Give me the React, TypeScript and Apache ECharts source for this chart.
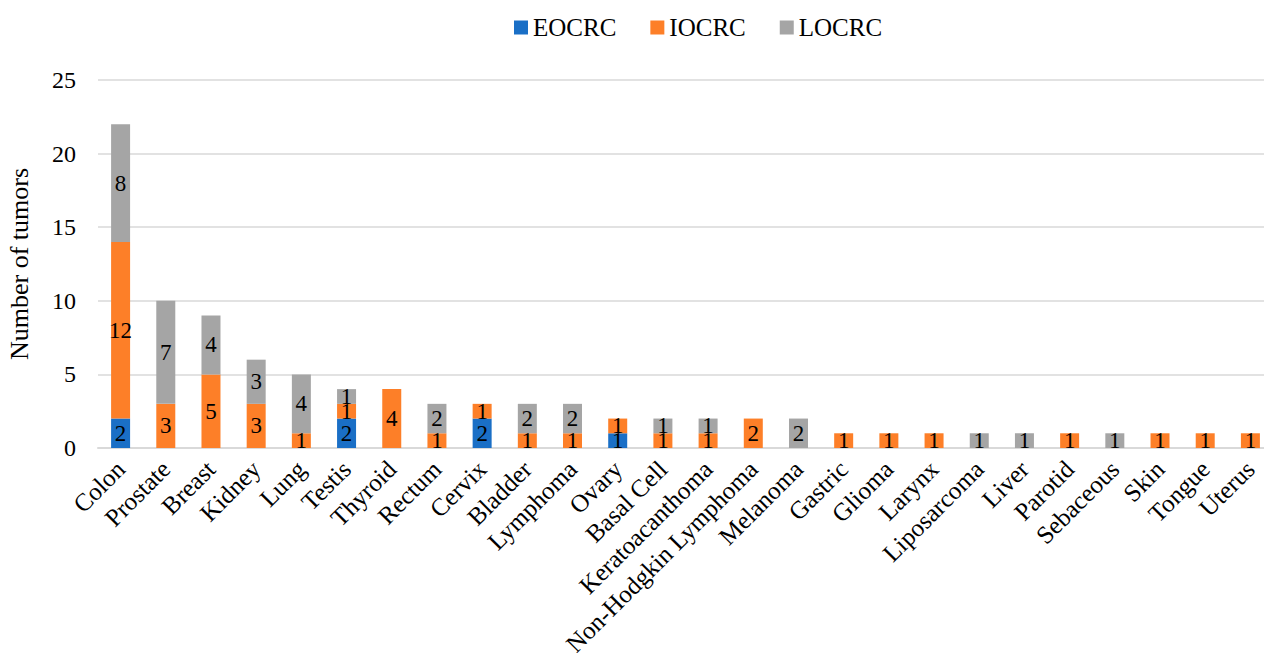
import React, { useEffect, useRef } from "react";
import * as echarts from "echarts";

const categories = [
  "Colon", "Prostate", "Breast", "Kidney", "Lung", "Testis", "Thyroid", "Rectum",
  "Cervix", "Bladder", "Lymphoma", "Ovary", "Basal Cell", "Keratoacanthoma",
  "Non-Hodgkin Lymphoma", "Melanoma", "Gastric", "Glioma", "Larynx", "Liposarcoma",
  "Liver", "Parotid", "Sebaceous", "Skin", "Tongue", "Uterus",
];
const eocrc = [2, 0, 0, 0, 0, 2, 0, 0, 2, 0, 0, 1, 0, 0, 0, 0, 0, 0, 0, 0, 0, 0, 0, 0, 0, 0];
const iocrc = [12, 3, 5, 3, 1, 1, 4, 1, 1, 1, 1, 1, 1, 1, 2, 0, 1, 1, 1, 0, 0, 1, 0, 1, 1, 1];
const locrc = [8, 7, 4, 3, 4, 1, 0, 2, 0, 2, 2, 0, 1, 1, 0, 2, 0, 0, 0, 1, 1, 0, 1, 0, 0, 0];
const yTicks = { min: 0, max: 25, interval: 5 };

const FONT = "'Liberation Serif', serif";

export default function App() {
  const ref = useRef<HTMLDivElement>(null);
  useEffect(() => {
    const chart = echarts.init(ref.current!, undefined, { renderer: "svg" });
    const mk = (name: string, data: number[], color: string) => ({
      name,
      type: "bar",
      stack: "total",
      data,
      barWidth: 19,
      itemStyle: { color },
      label: {
        show: true,
        position: "inside",
        color: "#000",
        fontFamily: FONT,
        fontSize: 23,
        formatter: (p: any) => (p.value ? String(p.value) : ""),
      },
    });
    chart.setOption({
      animation: false,
      textStyle: { fontFamily: FONT },
      legend: {
        top: 10,
        left: 509,
        itemWidth: 14,
        itemHeight: 14,
        itemGap: 34,
        icon: "rect",
        textStyle: { fontFamily: FONT, fontSize: 25, color: "#000" },
        data: ["EOCRC", "IOCRC", "LOCRC"],
      },
      grid: {
        left: 98,
        width: 1175,
        top: 80,
        height: 368,
        containLabel: false,
        outerBoundsMode: "none",
      },
      xAxis: {
        type: "category",
        data: categories,
        axisLine: { lineStyle: { color: "#D9D9D9", width: 2 } },
        axisTick: { show: false },
        axisLabel: {
          rotate: 45,
          interval: 0,
          margin: 17,
          color: "#000",
          fontFamily: FONT,
          fontSize: 25,
        },
      },
      yAxis: {
        type: "value",
        ...yTicks,
        name: "Number of tumors",
        nameLocation: "middle",
        nameGap: 66,
        nameTextStyle: { fontFamily: FONT, fontSize: 26, color: "#000" },
        axisLine: { show: false },
        axisTick: { show: false },
        splitLine: { lineStyle: { color: "#D9D9D9", width: 1.5 } },
        axisLabel: { color: "#000", fontFamily: FONT, fontSize: 24, margin: 22 },
      },
      series: [
        mk("EOCRC", eocrc, "#1A6FC6"),
        mk("IOCRC", iocrc, "#FD7F28"),
        mk("LOCRC", locrc, "#A5A5A5"),
      ],
    });
    return () => chart.dispose();
  }, []);
  return (
    <div
      ref={ref}
      style={{ position: "absolute", left: 0, top: 0, width: 1264, height: 653, background: "#fff" }}
    />
  );
}
